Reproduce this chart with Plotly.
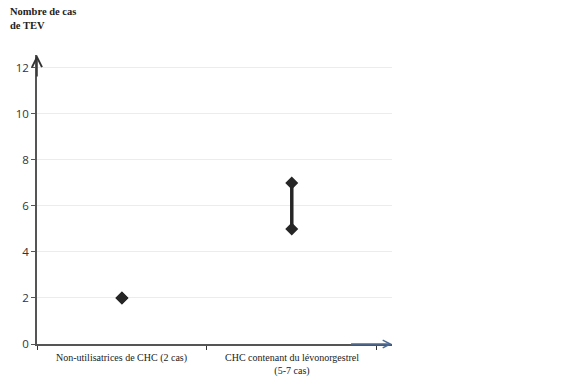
import plotly.graph_objects as go

categories = ["Non-utilisatrices de CHC (2 cas)", "CHC contenant du lévonorgestrel<br>(5-7 cas)"]
cas_min = [2, 5]
cas_max = [2, 7]
y_ticks = [0, 2, 4, 6, 8, 10, 12]

fig = go.Figure()
for i, (lo, hi) in enumerate(zip(cas_min, cas_max)):
    fig.add_trace(go.Scatter(
        x=[i, i], y=[lo, hi], mode="lines+markers",
        line=dict(color="#262626", width=3.5),
        marker=dict(symbol="diamond", size=10, color="#262626"),
        showlegend=False, hoverinfo="skip"))

YMAX = 12.56
fig.update_layout(
    width=563, height=385,
    margin=dict(l=37, r=171, t=55, b=41),
    plot_bgcolor="white", paper_bgcolor="white",
    xaxis=dict(range=[-0.5, 1.59], tickvals=[-0.5, 0.5, 1.5], ticktext=["", "", ""],
               ticks="outside", ticklen=4, tickcolor="#333", showgrid=False,
               showline=True, linecolor="#555", linewidth=1.5, zeroline=False,
               fixedrange=True),
    yaxis=dict(range=[0, YMAX], tickvals=y_ticks, ticks="outside", ticklen=4,
               tickcolor="#555", showgrid=True, gridcolor="#ececec", gridwidth=1,
               showline=True, linecolor="#555", linewidth=1.5, zeroline=False,
               tickfont=dict(family="Open Sans, Arial", size=11.5, color="#333")),
)

# category labels
for i, c in enumerate(categories):
    fig.add_annotation(x=i, y=0, xref="x", yref="y", text=c, showarrow=False,
                       yanchor="top", yshift=-6,
                       font=dict(family="Liberation Serif, Times New Roman", size=10, color="#222"))

# axis title
fig.add_annotation(x=-29/355, y=1 + 51/289, xref="paper", yref="paper", xanchor="left", yanchor="top",
                   text="<b>Nombre de cas<br>de TEV</b>", showarrow=False, align="left",
                   font=dict(family="Liberation Serif, Times New Roman", size=10.5, color="#222"))

# y-axis arrow
fig.add_annotation(x=-0.5, y=YMAX, xref="x", yref="y", ax=-0.5, ay=YMAX - 1, axref="x", ayref="y",
                   showarrow=True, arrowhead=5, arrowsize=1.3, arrowwidth=1.5, arrowcolor="#333", text="")
# x-axis blue arrow
fig.add_annotation(x=1.59, y=0, xref="x", yref="y", ax=1.34, ay=0, axref="x", ayref="y",
                   showarrow=True, arrowhead=5, arrowsize=1.0, arrowwidth=1.5, arrowcolor="#4a6a96", text="")

fig.write_html("out.html")
